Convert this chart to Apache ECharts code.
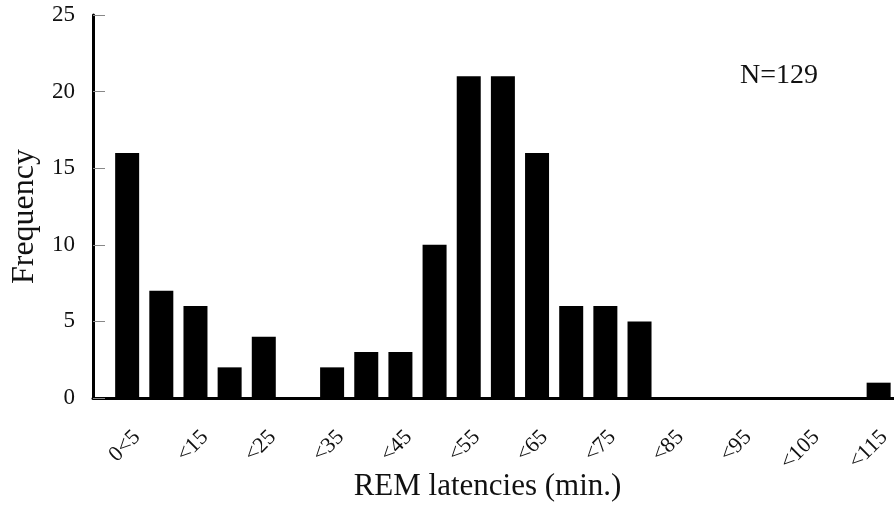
<!DOCTYPE html>
<html>
<head>
<meta charset="utf-8">
<script src="https://cdn.jsdelivr.net/npm/echarts@6/dist/echarts.min.js"></script>
<style>
  html, body { margin: 0; padding: 0; background: #fff; }
  #chart { width: 894px; height: 508px; }
</style>
</head>
<body>
<div id="chart"></div>
<script>
// REM latency bins (5 min wide)
const categories = ['0<5', '<10', '<15', '<20', '<25', '<30', '<35', '<40', '<45', '<50', '<55', '<60',
  '<65', '<70', '<75', '<80', '<85', '<90', '<95', '<100', '<105', '<110', '<115'];
const frequency = [16, 7, 6, 2, 4, 0, 2, 3, 3, 10, 21, 21, 16, 6, 6, 5, 0, 0, 0, 0, 0, 0, 1];
const yTicks = [0, 5, 10, 15, 20, 25];

const font = 'Liberation Serif';
const chart = echarts.init(document.getElementById('chart'));

// bars placed by index on a value axis so the first bin sits off the y axis
const barData = frequency.map((v, i) => [i, v]);
const labelFmt = v => (Number.isInteger(v) && v >= 0 && v % 2 === 0) ? (categories[v] || '') : '';

chart.setOption({
  animation: false,
  grid: [
    { left: 93, right: 0, top: 15, bottom: 110 },
    // twin grid, nudged 10px right (same px per bin), only carries the rotated bin labels
    { left: 103, right: 0, top: 15, bottom: 110 }
  ],
  graphic: [{
    type: 'text',
    left: 740,
    top: 62,
    style: { text: 'N=129', font: '28px "Liberation Serif"', fill: '#111' }
  }],
  xAxis: [{
    type: 'value',
    gridIndex: 0,
    min: -1,
    max: 22.45,
    interval: 1,
    name: 'REM latencies (min.)',
    nameLocation: 'middle',
    nameGap: 73,
    nameTextStyle: { fontFamily: font, fontSize: 31, color: '#111', padding: [0, 12, 0, 0] },
    axisLine: { onZero: false, lineStyle: { color: '#000', width: 3 } },
    axisTick: { show: false },
    splitLine: { show: false },
    axisLabel: { show: false }
  }, {
    type: 'value',
    gridIndex: 1,
    min: -1,
    max: 22.15,
    interval: 1,
    axisLine: { show: false },
    axisTick: { show: false },
    splitLine: { show: false },
    axisLabel: {
      rotate: 45,
      margin: 36,
      fontFamily: font,
      fontSize: 22,
      color: '#111',
      formatter: labelFmt
    }
  }],
  yAxis: [{
    type: 'value',
    gridIndex: 0,
    min: yTicks[0],
    max: yTicks[yTicks.length - 1],
    interval: 5,
    name: 'Frequency',
    nameLocation: 'middle',
    nameRotate: 90,
    nameGap: 52,
    nameTextStyle: { fontFamily: font, fontSize: 32, color: '#111', padding: [0, 20, 0, 0] },
    axisLine: { show: true, onZero: false, lineStyle: { color: '#000', width: 3 } },
    axisTick: { show: true, inside: true, length: 12, lineStyle: { color: '#888', width: 1 } },
    splitLine: { show: false },
    axisLabel: { margin: 18, fontFamily: font, fontSize: 23, color: '#111' }
  }, {
    type: 'value',
    gridIndex: 1,
    min: 0,
    max: 25,
    show: false
  }],
  series: [{
    type: 'bar',
    xAxisIndex: 0,
    yAxisIndex: 0,
    data: barData,
    barWidth: 24,
    itemStyle: { color: '#000' }
  }]
});
</script>
</body>
</html>
